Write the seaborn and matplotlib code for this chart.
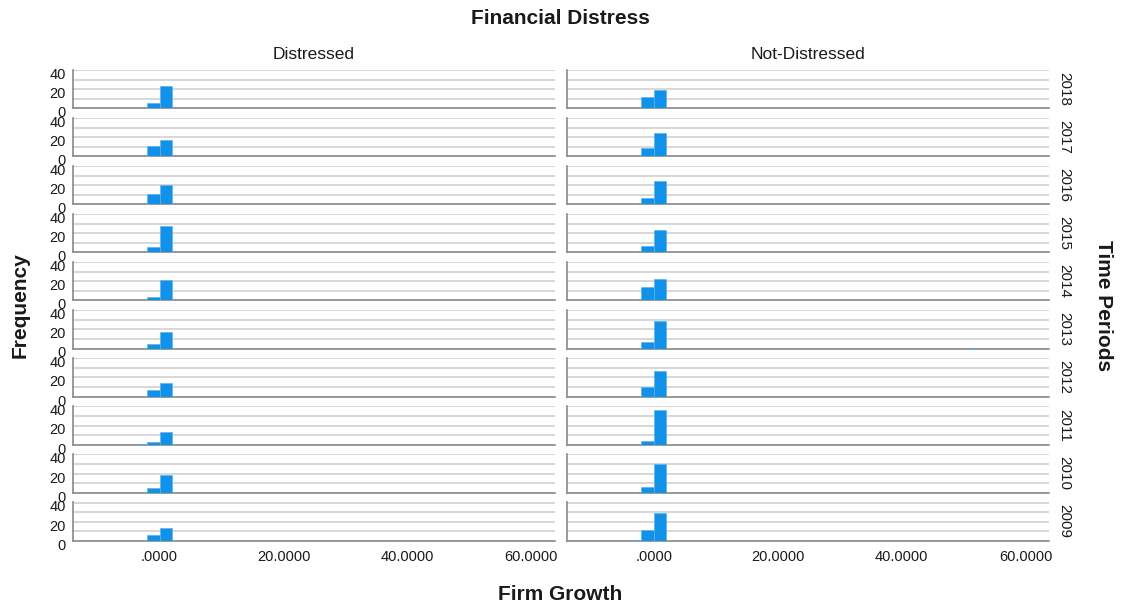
import numpy as np
import pandas as pd
import matplotlib
matplotlib.use("Agg")
import matplotlib.pyplot as plt
import seaborn as sns
from matplotlib.ticker import FixedLocator
from matplotlib.transforms import ScaledTranslation

# ---------------- data ----------------
years = [2018, 2017, 2016, 2015, 2014, 2013, 2012, 2011, 2010, 2009]
groups = ["Distressed", "Not-Distressed"]

# histogram counts per bin (bin width 2), years listed top (2018) to bottom (2009)
distressed_bin_m4 = [0, 0, 0, 0, 0, 0, 0, 1, 0, 0]       # [-4,-2)
distressed_bin_m2 = [6, 11, 11, 6, 4, 5, 7, 3, 5, 6]     # [-2, 0)
distressed_bin_0 = [23, 17, 20, 28, 21, 17, 14, 13, 19, 13]  # [0, 2)

notdist_bin_m4 = [0, 0, 0, 0, 0, 0, 0, 0, 0, 1]
notdist_bin_m2 = [12, 9, 7, 7, 14, 7, 10, 4, 6, 11]
notdist_bin_0 = [19, 24, 24, 23, 22, 29, 27, 36, 30, 29]
notdist_bin_50 = [0, 0, 0, 0, 0, 1, 0, 0, 0, 0]          # [50, 52)

x_ticks = [0, 20, 40, 60]
x_tick_labels = [".0000", "20.0000", "40.0000", "60.0000"]
y_ticks = [0, 20, 40]

# ---------------- build long table ----------------
bin_starts = {"m4": -4, "m2": -2, "0": 0, "50": 50}
series = {
    "Distressed": {"m4": distressed_bin_m4, "m2": distressed_bin_m2, "0": distressed_bin_0},
    "Not-Distressed": {"m4": notdist_bin_m4, "m2": notdist_bin_m2, "0": notdist_bin_0,
                        "50": notdist_bin_50},
}
rows = []
for grp, bins_d in series.items():
    for key, counts in bins_d.items():
        for yr, c in zip(years, counts):
            if c > 0:
                rows.append({"Financial Distress": grp, "Time Periods": yr,
                             "Firm Growth": bin_starts[key] + 1.0, "Count": c})
df = pd.DataFrame(rows)

# ---------------- style ----------------
sns.set_theme(style="white")
plt.rcParams["font.family"] = ["Liberation Sans", "DejaVu Sans"]
text_color = "#1a1a1a"
bar_color = "#1192e8"
grid_color = "#d4d4d4"
spine_color = "#8a8a8a"

g = sns.FacetGrid(df, row="Time Periods", col="Financial Distress",
                  row_order=years, col_order=groups, height=0.6, aspect=8,
                  sharex=True, sharey=True, despine=False)
g.map_dataframe(sns.histplot, x="Firm Growth", weights="Count",
                binwidth=2, binrange=(-4, 52),
                color=bar_color, alpha=1, edgecolor="#5cb2f0", linewidth=0.5)
g.set_axis_labels("", "")

fig = g.figure
fig.set_size_inches(11.21, 6.04)
fig.set_dpi(100)
fig.subplots_adjust(left=0.0649, right=0.9358, top=0.8849, bottom=0.1048,
                    wspace=0.025, hspace=0.24)

for (i, j), ax in np.ndenumerate(g.axes):
    ax.set_title("")
    for p in ax.patches:
        p.set_zorder(3)
        if p.get_height() == 0:
            p.set_visible(False)
    ax.set_xlim(-14, 63.8)
    ax.set_ylim(0, 40.6)
    ax.set_axisbelow(True)
    ax.yaxis.set_major_locator(FixedLocator(y_ticks))
    ax.yaxis.set_minor_locator(FixedLocator([10, 30]))
    ax.grid(axis="y", which="both", color=grid_color, linewidth=1.3)
    ax.grid(axis="x", visible=False)
    ax.set_xticks(x_ticks)
    ax.set_xticklabels(x_tick_labels)
    ax.tick_params(axis="both", which="both", length=0, labelsize=10.5,
                   colors=text_color)
    ax.tick_params(axis="y", pad=5)
    ax.tick_params(axis="x", pad=7)
    for s in ["top", "right"]:
        ax.spines[s].set_visible(False)
    for s in ["left", "bottom"]:
        ax.spines[s].set_color(spine_color)
        ax.spines[s].set_linewidth(1.2)
    if j == 0:
        ax.set_yticklabels([str(v) for v in y_ticks])
        for lab in ax.get_yticklabels():
            lab.set_transform(lab.get_transform() +
                              ScaledTranslation(0, -2.5 / 72, fig.dpi_scale_trans))
    else:
        ax.tick_params(axis="y", labelleft=False)
    if i != len(years) - 1:
        ax.tick_params(axis="x", labelbottom=False)
    # column headers
    if i == 0:
        ax.text(0.5, 1.26, groups[j], transform=ax.transAxes, ha="center",
                va="baseline", fontsize=12.5, color=text_color)
    # row labels
    if j == 1:
        ax.text(1.017, 0.5, str(years[i]), transform=ax.transAxes, ha="left",
                va="center", rotation=-90, fontsize=11, color=text_color)

fig.text(0.4996, 0.9603, "Financial Distress", ha="center", va="baseline",
         fontsize=15, fontweight="bold", color=text_color)
fig.text(0.5, 1 - 600 / 604, "Firm Growth", ha="center", va="baseline",
         fontsize=15, fontweight="bold", color=text_color)
fig.text(1103 / 1121, 0.4945, "Time Periods", ha="center", va="center",
         rotation=-90, fontsize=15, fontweight="bold", color=text_color)
fig.text(20 / 1121, 0.4945, "Frequency", ha="center", va="center",
         rotation=90, fontsize=15, fontweight="bold", color=text_color)

fig.savefig("out.png", dpi=100)
